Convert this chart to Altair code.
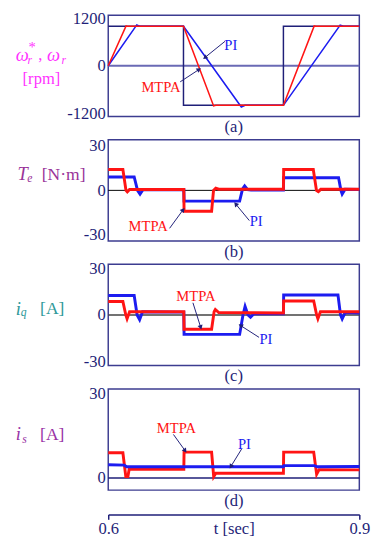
import altair as alt
import pandas as pd

FONT = "Liberation Serif"
RED = "#ff1414"
BLUE = "#1c1cf0"
NAVY = "#1f1f78"
FRAME = "#3c3c90"
W, H = 258, 104
T0, T1 = 0.6, 0.9

# ---------------- panel (a): speed [rpm]
a_ref_t = [0.6, 0.6899, 0.6899, 0.8093, 0.8093, 0.9]
a_ref_v = [1000, 1000, -1000, -1000, 1000, 1000]
a_mtpa_t = [0.6, 0.6213, 0.6228, 0.6899, 0.7259, 0.7285, 0.8093, 0.8461, 0.848, 0.9]
a_mtpa_v = [0, 1010, 1000, 1000, -1015, -1000, -1000, 1010, 1000, 1000]
a_pi_t = [0.6, 0.6341, 0.6375, 0.6899, 0.759, 0.7635, 0.8093, 0.8771, 0.881, 0.9]
a_pi_v = [0, 1035, 1000, 1000, -1040, -1000, -1000, 1030, 1000, 1000]

# ---------------- panel (b): torque [N.m]
te_mtpa_t = [0.6, 0.6175, 0.6212, 0.6228, 0.6255, 0.6903, 0.6906, 0.7235, 0.7258, 0.7285,
             0.732, 0.8093, 0.8096, 0.845, 0.8488, 0.851, 0.854, 0.9]
te_mtpa_v = [14, 14, 0, -1, 0.6, 0.6, -14, -14, 0, 1.5, 0.8, 0.8, 14, 14, 0, -0.8, 0.7, 0.7]
te_pi_t = [0.6, 0.631, 0.635, 0.638, 0.6415, 0.6903, 0.6906, 0.757, 0.7605, 0.763, 0.7665,
           0.7706, 0.8093, 0.8096, 0.8752, 0.878, 0.8795, 0.883, 0.9]
te_pi_v = [9, 9, 0, -2.5, 0.4, 0.4, -7.2, -7.2, 1, 3, 0.5, 0.2, 0.2, 8.5, 8.5, 0, -2.5, 0.8, 0.6]

# ---------------- panel (c): iq [A]
iq_pi_t = [0.6, 0.631, 0.6345, 0.6375, 0.641, 0.6903, 0.6906, 0.757, 0.761, 0.7635, 0.767,
           0.77, 0.774, 0.8093, 0.8096, 0.8745, 0.8775, 0.8795, 0.883, 0.9]
iq_pi_v = [12.5, 12.5, 0, -3, 2, 1.8, -12.5, -12.5, 0, 5.5, 0, -1.5, 0.8, 0.8, 12.8, 12.8,
           0, -2.5, 1.5, 1.2]
iq_mtpa_t = [0.6, 0.6175, 0.621, 0.6225, 0.6255, 0.6903, 0.6906, 0.7235, 0.7265, 0.728,
             0.732, 0.8093, 0.8096, 0.8455, 0.849, 0.8505, 0.8535, 0.9]
iq_mtpa_v = [8.6, 8.6, 0, -2.5, 2, 2, -9.2, -9.2, 2, 3.5, 1.5, 1.3, 9, 9, 0, -2.5, 2, 2]

# ---------------- panel (d): is [A]
is_mtpa_t = [0.6, 0.6175, 0.621, 0.6235, 0.625, 0.6903, 0.6906, 0.7235, 0.726, 0.7285,
             0.8093, 0.8096, 0.8455, 0.849, 0.852, 0.9]
is_mtpa_v = [9, 9, 0.5, 0.5, 3.1, 3.1, 9.2, 9.2, 0.5, 1.7, 1.7, 9.2, 9.2, 1.3, 3, 2.9]
is_pi_t = [0.6, 0.619, 0.622, 0.8093, 0.81, 0.8461, 0.85, 0.9]
is_pi_v = [4.7, 4.6, 4.0, 4.0, 4.4, 4.4, 4.0, 4.1]

# ---------------- annotations: (label, t, value, colour)
a_texts = [("PI", 0.7465, 528, BLUE), ("MTPA", 0.663, -528, RED)]
a_arrows = [(0.7395, 619, 0.7155, 209, 231), (0.686, -405, 0.7085, -93, 57)]
b_texts = [("MTPA", 0.6477, -24.2, RED), ("PI", 0.7767, -20.9, BLUE)]
b_arrows = [(0.6733, -25.5, 0.6895, -13.0, 38), (0.7686, -20.3, 0.7523, -9.2, 320)]
c_texts = [("MTPA", 0.7047, 12.2, RED), ("PI", 0.7884, -15.6, BLUE)]
c_arrows = [(0.7012, 7.8, 0.7105, -8.0, 162), (0.7802, -14.4, 0.7581, -6.8, 302)]
d_texts = [("MTPA", 0.6814, 17.9, RED), ("PI", 0.7628, 12.1, BLUE)]
d_arrows = [(0.6779, 15.5, 0.6919, 9.7, 145), (0.7593, 10.3, 0.7465, 4.1, 211)]

# ---------------- y titles: pieces (text, t, value)
a_title = {"big": [("ω", 0.4895, 270), ("ω", 0.5267, 270)],
           "sub": [("r", 0.5035, 140), ("r", 0.5442, 140)],
           "sup": [("*", 0.5047, 480)],
           "plain": [(",", 0.5163, 270), ("[rpm]", 0.4977, -345)]}
b_title = {"big": [("T", 0.4915, 11.1)], "sub": [("e", 0.5031, 8.2)],
           "sup": [], "plain": [("[N·m]", 0.5206, 10.1)]}
c_title = {"big": [("i", 0.4895, 4.0)], "sub": [("q", 0.4954, 1.5)],
           "sup": [], "plain": [("[A]", 0.5186, 3.8)]}
d_title = {"big": [("i", 0.4895, 15.6)], "sub": [("s", 0.4973, 14.0)],
           "sup": [], "plain": [("[A]", 0.5186, 15.3)]}


def ldf(t, v):
    return pd.DataFrame({"t": t, "v": v, "i": list(range(len(t)))})


def make_panel(domain, ticks, traces, zero, texts, arrows, title, tcolor, caption, xaxis,
               plain_size=18):
    ysc = alt.Scale(domain=domain, nice=False, zero=False)
    xsc = alt.Scale(domain=[T0, T1], nice=False, zero=False)
    yax = alt.Axis(values=ticks, labelExpr="'' + datum.value", title=None, ticks=False,
                   domain=False, grid=False, labelFont=FONT, labelFontSize=17,
                   labelColor=NAVY, labelPadding=3)
    X = lambda f: alt.X(f, type="quantitative", scale=xsc, axis=xaxis)
    Y = lambda f: alt.Y(f, type="quantitative", scale=ysc, axis=yax)
    layers = []
    layers.append(alt.Chart(pd.DataFrame({"t": [T0, T1], "v": [0, 0], "i": [0, 1]}))
                  .mark_line(color=zero[0], strokeWidth=zero[1])
                  .encode(x=X("t"), y=Y("v"), order="i:Q"))
    for (t, v, col, sw) in traces:
        layers.append(alt.Chart(ldf(t, v)).mark_line(color=col, strokeWidth=sw)
                      .encode(x=X("t"), y=Y("v"), order="i:Q"))
    tdf = pd.DataFrame(texts, columns=["label", "t", "v", "col"])
    layers.append(alt.Chart(tdf).mark_text(font=FONT, fontSize=15, align="center",
                                           baseline="middle")
                  .encode(x=X("t"), y=Y("v"), text="label:N",
                          color=alt.Color("col:N", scale=None)))
    adf = pd.DataFrame(arrows, columns=["t1", "v1", "t2", "v2", "ang"])
    layers.append(alt.Chart(adf).mark_rule(color=NAVY, strokeWidth=1)
                  .encode(x=X("t1"), y=Y("v1"), x2="t2:Q", y2="v2:Q"))
    layers.append(alt.Chart(adf).mark_point(shape="triangle-up", filled=True, size=28,
                                            color=NAVY, opacity=1)
                  .encode(x=X("t2"), y=Y("v2"), angle=alt.Angle("ang:Q", scale=None)))
    styles = {"big": (19, "italic"), "sub": (12, "italic"), "sup": (15, "normal"),
              "plain": (plain_size, "normal")}
    for k, (fs, st) in styles.items():
        if not title[k]:
            continue
        pdf = pd.DataFrame(title[k], columns=["label", "t", "v"])
        layers.append(alt.Chart(pdf).mark_text(font=FONT, fontSize=fs, fontStyle=st,
                                               align="left", baseline="middle", color=tcolor)
                      .encode(x=X("t"), y=Y("v"), text="label:N"))
    layers.append(alt.Chart(pd.DataFrame({"c": [caption]}))
                  .mark_text(font=FONT, fontSize=17, color=NAVY, align="center",
                             baseline="middle")
                  .encode(x=alt.value(W / 2), y=alt.value(H + 11), text="c:N"))
    return alt.layer(*layers).properties(width=W, height=H)


bottom_axis = alt.Axis(values=[0.6, 0.9], format=".1f", offset=25, ticks=True, tickSize=5,
                       tickColor=NAVY, tickWidth=1.5, domainColor=NAVY, domainWidth=1.5,
                       labelFont=FONT, labelFontSize=17, labelColor=NAVY,
                       labelBaseline="middle", labelPadding=10, labelFlush=False,
                       title="t [sec]", titleFont=FONT, titleFontSize=17,
                       titleFontWeight="normal", titleColor=NAVY, titleBaseline="middle",
                       titleY=15, grid=False)

pa = make_panel([-1280, 1280], [-1200, 0, 1200],
                [(a_ref_t, a_ref_v, NAVY, 1.5), (a_pi_t, a_pi_v, BLUE, 1.6),
                 (a_mtpa_t, a_mtpa_v, RED, 1.6)],
                ("#6a6ab5", 2), a_texts, a_arrows, a_title, "#ff33ff", "(a)", None,
                plain_size=17)
pb = make_panel([-34, 34], [-30, 0, 30],
                [(te_pi_t, te_pi_v, BLUE, 3), (te_mtpa_t, te_mtpa_v, RED, 3)],
                ("#000000", 1), b_texts, b_arrows, b_title, "#993399", "(b)", None)
pc = make_panel([-32.5, 32.5], [-30, 0, 30],
                [(iq_pi_t, iq_pi_v, BLUE, 3), (iq_mtpa_t, iq_mtpa_v, RED, 3)],
                ("#444444", 1.5), c_texts, c_arrows, c_title, "#2e9999", "(c)", None)
pd_ = make_panel([-4.3, 31.7], [0, 30],
                 [(is_mtpa_t, is_mtpa_v, RED, 3), (is_pi_t, is_pi_v, BLUE, 3)],
                 (NAVY, 1.5), d_texts, d_arrows, d_title, "#9933a6", "(d)", bottom_axis)

chart = (alt.vconcat(pa, pb, pc, pd_, spacing=24, bounds="flush")
         .properties(padding={"left": 7, "top": -7, "right": 0, "bottom": 0})
         .configure_view(stroke=FRAME, strokeWidth=1.5))

chart.save("out.html", embed_options={"renderer": "svg", "actions": False})
